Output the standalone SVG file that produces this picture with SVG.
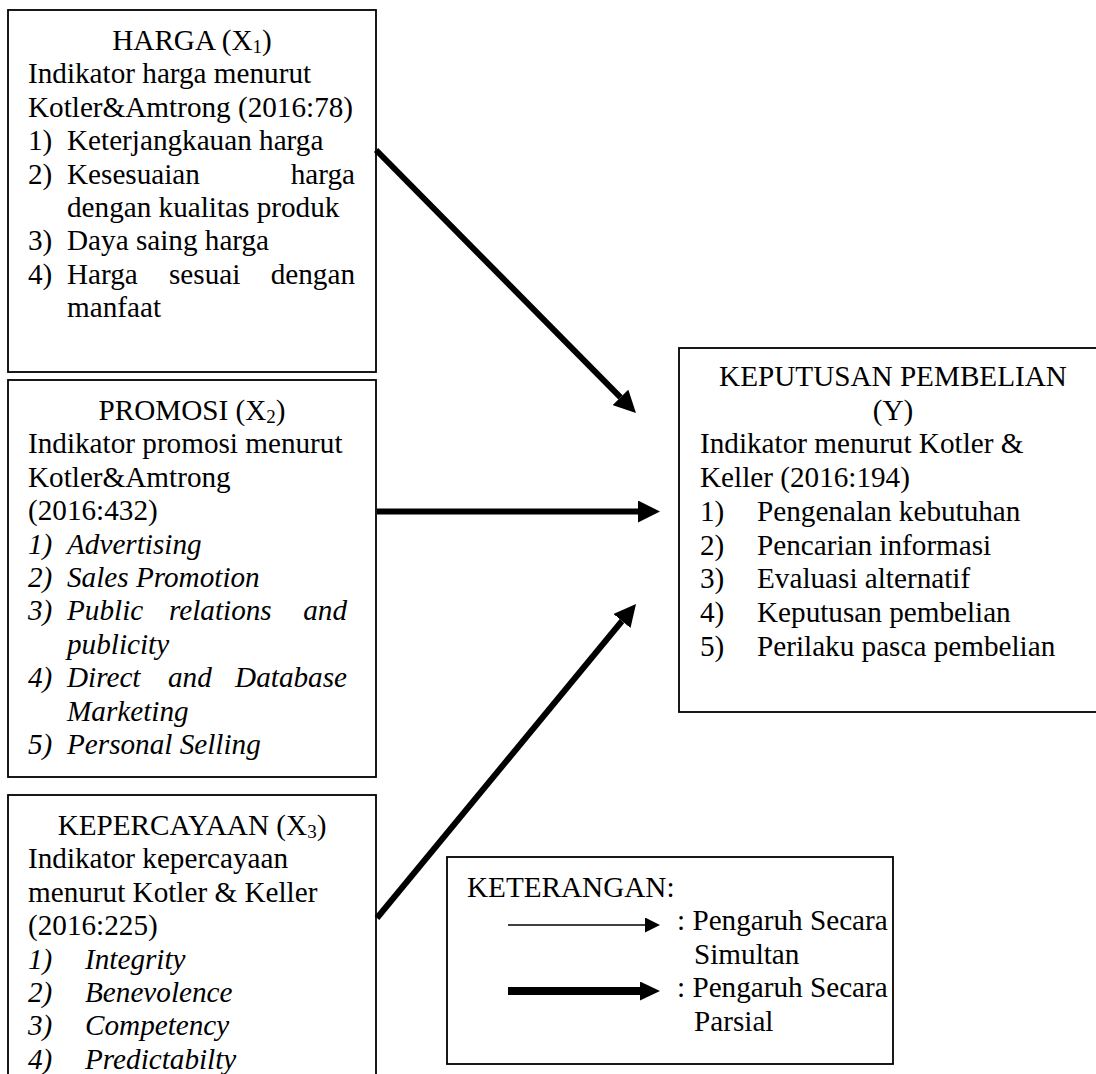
<svg xmlns="http://www.w3.org/2000/svg" width="1096" height="1074" viewBox="0 0 1096 1074">
<style>
  .box { fill: #ffffff; stroke: #000000; stroke-width: 1.8; }
  text { font-family: "Liberation Serif", "Times New Roman", serif; font-size: 29.2px; fill: #000000; }
  .it { font-style: italic; }
  .mid { text-anchor: middle; }
  .end { text-anchor: end; }
  .sub { font-size: 19px; }
  .thick { stroke: #000000; stroke-width: 6; fill: none; }
  .thickL { stroke: #000000; stroke-width: 8; fill: none; }
  .thin { stroke: #000000; stroke-width: 1.4; fill: none; }
</style>
<defs>
  <marker id="headBig" markerUnits="userSpaceOnUse" viewBox="0 0 22 22" markerWidth="22" markerHeight="22" refX="0" refY="11" orient="auto">
    <path d="M0,0 L22,11 L0,22 z" fill="#000000"/>
  </marker>
  <marker id="headLeg" markerUnits="userSpaceOnUse" viewBox="0 0 20 19" markerWidth="20" markerHeight="19" refX="0" refY="9.5" orient="auto">
    <path d="M0,0 L20,9.5 L0,19 z" fill="#000000"/>
  </marker>
  <marker id="headThin" markerUnits="userSpaceOnUse" viewBox="0 0 15 15" markerWidth="15" markerHeight="15" refX="0" refY="7.5" orient="auto">
    <path d="M0,0 L15,7.5 L0,15 z" fill="#000000"/>
  </marker>
</defs>
<rect width="1096" height="1074" fill="#ffffff"/>

<g id="harga">
  <rect class="box" x="8" y="10" width="368" height="362"/>
  <text class="mid" x="192" y="50">HARGA (X<tspan class="sub" dy="3">1</tspan><tspan dy="-3">)</tspan></text>
  <text x="28" y="83.4">Indikator harga menurut</text>
  <text x="28" y="116.8">Kotler&amp;Amtrong (2016:78)</text>
  <text x="28" y="150.2">1)</text><text x="67" y="150.2">Keterjangkauan harga</text>
  <text x="28" y="183.6">2)</text><text x="67" y="183.6">Kesesuaian</text><text class="end" x="355" y="183.6">harga</text>
  <text x="67" y="217">dengan kualitas produk</text>
  <text x="28" y="250.4">3)</text><text x="67" y="250.4">Daya saing harga</text>
  <text x="28" y="283.8">4)</text><text x="67" y="283.8">Harga</text><text x="169" y="283.8">sesuai</text><text class="end" x="355" y="283.8">dengan</text>
  <text x="67" y="317.2">manfaat</text>
</g>

<g id="promosi">
  <rect class="box" x="8" y="380" width="368" height="397"/>
  <text class="mid" x="192" y="420">PROMOSI (X<tspan class="sub" dy="3">2</tspan><tspan dy="-3">)</tspan></text>
  <text x="28" y="453.4">Indikator promosi menurut</text>
  <text x="28" y="486.8">Kotler&amp;Amtrong</text>
  <text x="28" y="520.2">(2016:432)</text>
  <text class="it" x="28" y="553.6">1)</text><text class="it" x="67" y="553.6">Advertising</text>
  <text class="it" x="28" y="587">2)</text><text class="it" x="67" y="587">Sales Promotion</text>
  <text class="it" x="28" y="620.4">3)</text><text class="it" x="67" y="620.4">Public</text><text class="it" x="169" y="620.4">relations</text><text class="it end" x="347" y="620.4">and</text>
  <text class="it" x="67" y="653.8">publicity</text>
  <text class="it" x="28" y="687.2">4)</text><text class="it" x="67" y="687.2">Direct</text><text class="it" x="168" y="687.2">and</text><text class="it end" x="347" y="687.2">Database</text>
  <text class="it" x="67" y="720.6">Marketing</text>
  <text class="it" x="28" y="754">5)</text><text class="it" x="67" y="754">Personal Selling</text>
</g>

<g id="kepercayaan">
  <rect class="box" x="8" y="795" width="368" height="300"/>
  <text class="mid" x="192" y="835">KEPERCAYAAN (X<tspan class="sub" dy="3">3</tspan><tspan dy="-3">)</tspan></text>
  <text x="28" y="868.4">Indikator kepercayaan</text>
  <text x="28" y="901.8">menurut Kotler &amp; Keller</text>
  <text x="28" y="935.2">(2016:225)</text>
  <text class="it" x="28" y="968.6">1)</text><text class="it" x="85" y="968.6">Integrity</text>
  <text class="it" x="28" y="1002">2)</text><text class="it" x="85" y="1002">Benevolence</text>
  <text class="it" x="28" y="1035.4">3)</text><text class="it" x="85" y="1035.4">Competency</text>
  <text class="it" x="28" y="1068.8">4)</text><text class="it" x="85" y="1068.8">Predictabilty</text>
</g>

<g id="keputusan">
  <rect class="box" x="679" y="348" width="430" height="364"/>
  <text class="mid" x="893" y="386">KEPUTUSAN PEMBELIAN</text>
  <text class="mid" x="893" y="419.7">(Y)</text>
  <text x="700" y="453.4">Indikator menurut Kotler &amp;</text>
  <text x="700" y="487.1">Keller (2016:194)</text>
  <text x="700" y="520.8">1)</text><text x="757" y="520.8">Pengenalan kebutuhan</text>
  <text x="700" y="554.5">2)</text><text x="757" y="554.5">Pencarian informasi</text>
  <text x="700" y="588.2">3)</text><text x="757" y="588.2">Evaluasi alternatif</text>
  <text x="700" y="621.9">4)</text><text x="757" y="621.9">Keputusan pembelian</text>
  <text x="700" y="655.6">5)</text><text x="757" y="655.6">Perilaku pasca pembelian</text>
</g>

<g id="keterangan">
  <rect class="box" x="447" y="857" width="446" height="207"/>
  <text x="467" y="897">KETERANGAN:</text>
  <line class="thin" x1="508" y1="925" x2="645" y2="925" marker-end="url(#headThin)"/>
  <text x="677" y="930.4">: Pengaruh Secara</text>
  <text x="694" y="963.8">Simultan</text>
  <line class="thickL" x1="508" y1="991" x2="640" y2="991" marker-end="url(#headLeg)"/>
  <text x="677" y="997.2">: Pengaruh Secara</text>
  <text x="694" y="1030.6">Parsial</text>
</g>

<g id="connectors">
  <line class="thick" x1="376" y1="150" x2="620.5" y2="397.4" marker-end="url(#headBig)"/>
  <line class="thick" x1="377" y1="511.5" x2="638" y2="511.5" marker-end="url(#headBig)"/>
  <line class="thick" x1="377" y1="918" x2="622" y2="621" marker-end="url(#headBig)"/>
</g>
</svg>
